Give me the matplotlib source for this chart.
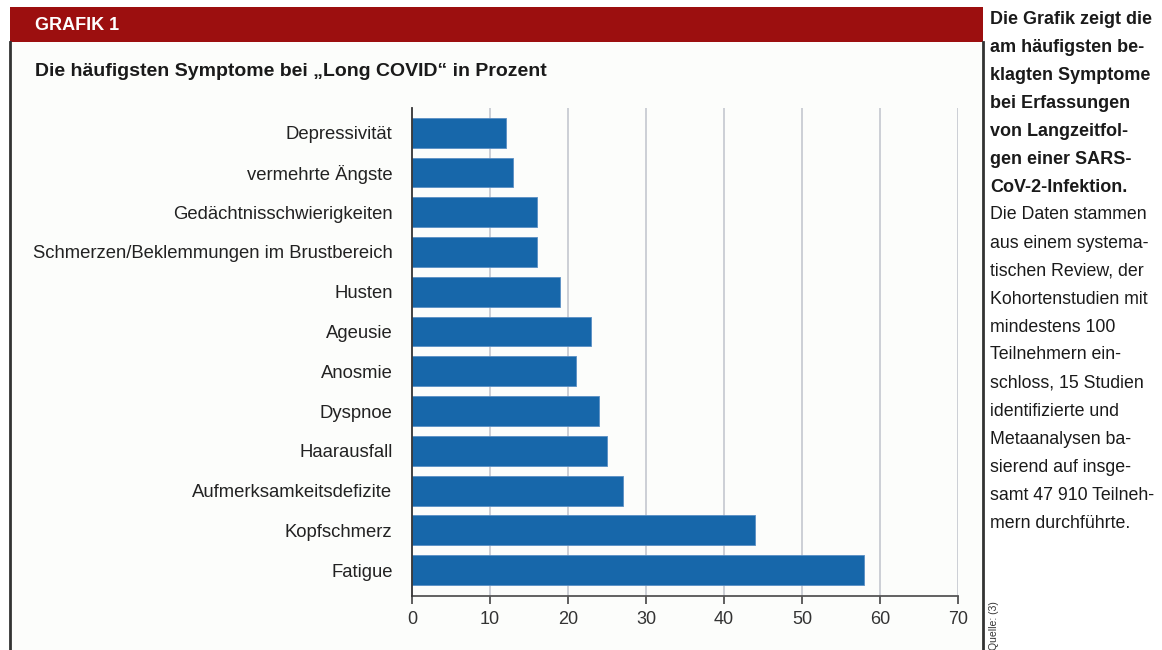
import matplotlib
matplotlib.use("Agg")
import matplotlib.pyplot as plt
from matplotlib.patches import Rectangle
from matplotlib.lines import Line2D
from matplotlib import font_manager

# ---- data ----
categories = ["Depressivität", "vermehrte Ängste", "Gedächtnisschwierigkeiten",
              "Schmerzen/Beklemmungen im Brustbereich", "Husten", "Ageusie",
              "Anosmie", "Dyspnoe", "Haarausfall", "Aufmerksamkeitsdefizite",
              "Kopfschmerz", "Fatigue"]
values = [12, 13, 16, 16, 19, 23, 21, 24, 25, 27, 44, 58]
xticks = [0, 10, 20, 30, 40, 50, 60, 70]

header = "GRAFIK 1"
title = "Die häufigsten Symptome bei \u201eLong COVID\u201c in Prozent"
side_bold = ["Die Grafik zeigt die", "am häufigsten be-", "klagten Symptome",
             "bei Erfassungen", "von Langzeitfol-", "gen einer SARS-",
             "CoV-2-Infektion."]
side_normal = ["Die Daten stammen", "aus einem systema-", "tischen Review, der",
               "Kohortenstudien mit", "mindestens 100", "Teilnehmern ein-",
               "schloss, 15 Studien", "identifizierte und", "Metaanalysen ba-",
               "sierend auf insge-", "samt 47 910 Teilneh-", "mern durchführte."]
source = "Quelle: (3)"

names = {f.name for f in font_manager.fontManager.ttflist}
FONT = "Liberation Sans Narrow" if "Liberation Sans Narrow" in names else "Liberation Sans"
plt.rcParams['font.family'] = [FONT, 'DejaVu Sans']

W, H = 1162, 650
fig = plt.figure(figsize=(W / 100, H / 100), dpi=100)
fig.patch.set_facecolor("white")

def fx(px):
    return px / W

def fy(py):
    return 1 - py / H

# chart panel background
fig.patches.append(Rectangle((fx(10), 0), fx(983) - fx(10), fy(42), transform=fig.transFigure,
                             facecolor="#fcfdfb", edgecolor="none", zorder=-5))
# red header band
fig.patches.append(Rectangle((fx(10), fy(42)), fx(983) - fx(10), fy(7) - fy(42),
                             transform=fig.transFigure, facecolor="#9c0f0f",
                             edgecolor="none", zorder=-4))
# frame lines
fig.lines.append(Line2D([fx(10), fx(10)], [0, fy(42)], transform=fig.transFigure,
                        color="#333333", lw=2.0))
fig.lines.append(Line2D([fx(983), fx(983)], [0, fy(42)], transform=fig.transFigure,
                        color="#333333", lw=2.0))

fig.text(fx(35), fy(26), header, color="white", fontsize=13, fontweight="bold",
         va="center", ha="left")
fig.text(fx(35), fy(72), title, color="#1a1a1a", fontsize=14, fontweight="bold",
         va="center", ha="left")

# side text
y0, dy = 19, 28
for i, line in enumerate(side_bold + side_normal):
    is_bold = i < len(side_bold)
    fig.text(fx(990), fy(y0 + i * dy), line, color="#1a1a1a",
             fontsize=13.0 if is_bold else 12.8,
             fontweight="bold" if is_bold else "normal",
             va="center", ha="left")
fig.text(fx(994), fy(626), source, rotation=90, fontsize=7.5, color="#333333",
         va="center", ha="center")

# axes
ax = fig.add_axes([fx(412), fy(596), fx(958) - fx(412), fy(108) - fy(596)])
ax.set_zorder(5)
ax.set_facecolor("none")
pos = list(range(len(categories)))
ax.barh(pos, values, height=0.75, color="#1767aa", edgecolor="#5a8fc4",
        linewidth=0.6, zorder=3)
ax.set_xlim(0, 70)
ax.set_ylim(len(categories) - 0.35, -0.62)
ax.set_yticks(pos)
ax.set_yticklabels(categories, fontsize=13.3, color="#222222")
ax.tick_params(axis="y", length=0, pad=14)
ax.set_xticks(xticks)
ax.set_xticklabels([str(t) for t in xticks], fontsize=13, color="#333333")
ax.tick_params(axis="x", length=6, width=1.2, color="#444444", pad=5, direction="out")
for t in xticks[1:]:
    ax.axvline(t, color="#c4c8cf", lw=1.2, zorder=1)
for s in ["top", "right"]:
    ax.spines[s].set_visible(False)
ax.spines["left"].set_color("#333333")
ax.spines["left"].set_linewidth(1.3)
ax.spines["bottom"].set_color("#555555")
ax.spines["bottom"].set_linewidth(1.3)
ax.spines["left"].set_zorder(4)

fig.savefig("out.png", dpi=100)
